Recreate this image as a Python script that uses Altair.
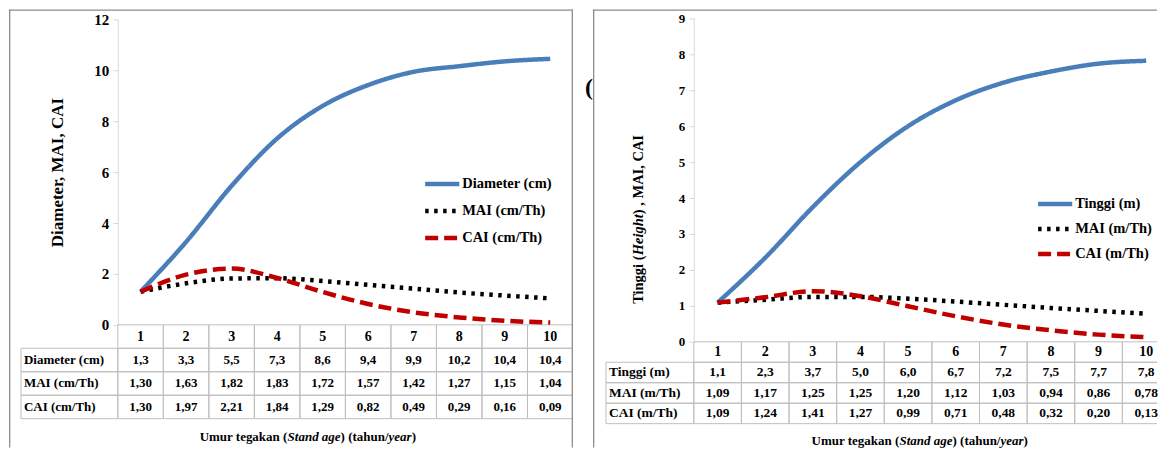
import altair as alt
import pandas as pd

# ---------------- data ----------------
AGES = [1, 2, 3, 4, 5, 6, 7, 8, 9, 10]
AGE_LABELS = ["1", "2", "3", "4", "5", "6", "7", "8", "9", "10"]

DIAM_SERIES = ["Diameter (cm)", "MAI (cm/Th)", "CAI (cm/Th)"]
DIAM = [1.30, 3.26, 5.46, 7.32, 8.60, 9.42, 9.94, 10.16, 10.35, 10.45]
DIAM_MAI = [1.30, 1.63, 1.82, 1.83, 1.72, 1.57, 1.42, 1.27, 1.15, 1.04]
DIAM_CAI = [1.30, 1.97, 2.21, 1.84, 1.29, 0.82, 0.49, 0.29, 0.16, 0.09]
DIAM_TXT = ["1,3", "3,3", "5,5", "7,3", "8,6", "9,4", "9,9", "10,2", "10,4", "10,4"]
DIAM_MAI_TXT = ["1,30", "1,63", "1,82", "1,83", "1,72", "1,57", "1,42", "1,27", "1,15", "1,04"]
DIAM_CAI_TXT = ["1,30", "1,97", "2,21", "1,84", "1,29", "0,82", "0,49", "0,29", "0,16", "0,09"]

HT_SERIES = ["Tinggi (m)", "MAI (m/Th)", "CAI (m/Th)"]
HT = [1.09, 2.34, 3.75, 5.00, 6.00, 6.72, 7.21, 7.52, 7.74, 7.82]
HT_MAI = [1.09, 1.17, 1.25, 1.25, 1.20, 1.12, 1.03, 0.94, 0.86, 0.78]
HT_CAI = [1.09, 1.24, 1.41, 1.27, 0.99, 0.71, 0.48, 0.32, 0.20, 0.13]
HT_TXT = ["1,1", "2,3", "3,7", "5,0", "6,0", "6,7", "7,2", "7,5", "7,7", "7,8"]
HT_MAI_TXT = ["1,09", "1,17", "1,25", "1,25", "1,20", "1,12", "1,03", "0,94", "0,86", "0,78"]
HT_CAI_TXT = ["1,09", "1,24", "1,41", "1,27", "0,99", "0,71", "0,48", "0,32", "0,20", "0,13"]

XTITLE_SEGS = [("Umur tegakan (", False), ("Stand age", True), (") (tahun/", False), ("year", True), (")", False)]
YTITLE_R_SEGS = [("Tinggi (", False), ("Height", True), (") , MAI, CAI", False)]

# ---------------- style ----------------
FONT = "Liberation Serif"
W, H = 565, 439
COLORS = ["#4a7ebb", "#000000", "#c00000"]
DASHES = [[1, 0], [3.5, 5.5], [13, 6]]
GRID = "#bfbfbf"
FRAME = "#8c8c8c"

BOLD = {" ": 250, "(": 333, ")": 333, ",": 250, "/": 278,
        "A": 722, "C": 722, "D": 722, "H": 778, "I": 389, "M": 944, "S": 556, "T": 667, "U": 722,
        "a": 500, "c": 444, "d": 556, "e": 444, "g": 500, "h": 556, "i": 278, "k": 556, "m": 833,
        "n": 556, "r": 444, "t": 333, "u": 556, "y": 500}
BOLDIT = {" ": 250, "(": 333, ")": 333, "S": 556, "H": 778, "a": 500, "d": 500, "e": 444, "g": 500,
          "h": 556, "i": 278, "n": 556, "r": 389, "t": 278, "y": 444}


def tw(s, size, italic=False):
    tbl = BOLDIT if italic else BOLD
    return sum(tbl.get(c, 500) for c in s) * size / 1000.0


ONE = pd.DataFrame({"k": [0]})


def seg_text(segs, x0, y0, size, vertical=False):
    layers = []
    pos = y0 if vertical else x0
    for s, it in segs:
        w = tw(s, size, it)
        if vertical:
            props = dict(x=x0, y=pos, angle=270)
            pos -= w
        else:
            props = dict(x=pos, y=y0)
            pos += w
        layers.append(
            alt.Chart(ONE).mark_text(align="left", baseline="middle", font=FONT, fontSize=size,
                                     fontWeight="bold", fontStyle="italic" if it else "normal",
                                     color="black", **props).encode(text=alt.value(s))
        )
    return layers


def panel(p):
    cw, ax = p["colw"], p["axis_px"]
    xdom = [0.5 - ax / cw, 0.5 + (W - ax) / cw]
    xsc = alt.Scale(domain=xdom, nice=False, zero=False)
    ysc = alt.Scale(domain=[0, p["ymax"]], range=[p["zero_px"], p["top_px"]], nice=False, zero=False)
    rsc = alt.Scale(domain=[0, 4], range=[p["zero_px"], p["bottom_px"]], nice=False, zero=False)
    lab_x = 0.5 + (p["label_px"] - ax) / cw
    names = p["series"]

    rows = []
    for name, vals in zip(names, p["values"]):
        for a, v in zip(AGES, vals):
            rows.append({"age": a, "value": v, "series": name})
    df = pd.DataFrame(rows)

    legend = alt.Legend(orient="none", legendX=p["legX"], legendY=p["legY"], title=None,
                        symbolType="M-3,0H3", symbolSize=130, symbolStrokeWidth=4.5, symbolOpacity=1,
                        labelFont=FONT, labelFontSize=14.5, labelFontWeight="bold", labelColor="black",
                        labelOffset=p["legOff"], rowPadding=p["legRow"], padding=0)

    yaxis = alt.Axis(orient="left", offset=-ax, values=p["ticks"], grid=False,
                     domainColor="#d9d9d9", tickColor="#d9d9d9", tickSize=5,
                     labelFont=FONT, labelFontSize=p["tick_fs"], labelFontWeight="bold",
                     labelColor="black", labelPadding=4,
                     title=p["ytitle"], titleFont=FONT, titleFontSize=17, titleFontWeight="bold",
                     titleColor="black", titlePadding=27)

    line = alt.Chart(df).mark_line(interpolate="monotone", strokeWidth=4.5).encode(
        x=alt.X("age:Q", scale=xsc, axis=None),
        y=alt.Y("value:Q", scale=ysc, axis=yaxis),
        color=alt.Color("series:N", scale=alt.Scale(domain=names, range=COLORS), legend=legend),
        strokeDash=alt.StrokeDash("series:N", scale=alt.Scale(domain=names, range=DASHES), legend=legend),
    )

    cells = []
    for a in AGES:
        cells.append({"x0": a - 0.5, "x1": a + 0.5, "r0": 0, "r1": 1})
    for i in range(3):
        cells.append({"x0": lab_x, "x1": 0.5, "r0": i + 1, "r1": i + 2})
        for a in AGES:
            cells.append({"x0": a - 0.5, "x1": a + 0.5, "r0": i + 1, "r1": i + 2})
    rect = alt.Chart(pd.DataFrame(cells)).mark_rect(filled=False, fill="transparent", stroke=GRID,
                                                    strokeWidth=1, clip=True).encode(
        x=alt.X("x0:Q", scale=xsc, axis=None), x2="x1:Q",
        y=alt.Y("r0:Q", scale=rsc, axis=None), y2="r1:Q")

    hdr = pd.DataFrame({"c": AGES, "r": [0.5] * 10, "t": AGE_LABELS})
    hdr_t = alt.Chart(hdr).mark_text(font=FONT, fontSize=14, fontWeight="bold", color="black").encode(
        x=alt.X("c:Q", scale=xsc, axis=None), y=alt.Y("r:Q", scale=rsc, axis=None), text="t:N")

    vals = []
    for i, txts in enumerate(p["texts"]):
        for a, t in zip(AGES, txts):
            vals.append({"c": a, "r": i + 1.5, "t": t})
    val_t = alt.Chart(pd.DataFrame(vals)).mark_text(font=FONT, fontSize=p["tbl_fs"], fontWeight="bold",
                                                    color="black").encode(
        x=alt.X("c:Q", scale=xsc, axis=None), y=alt.Y("r:Q", scale=rsc, axis=None), text="t:N")

    labs = pd.DataFrame({"c": [lab_x] * 3, "r": [1.5, 2.5, 3.5], "t": names})
    lab_t = alt.Chart(labs).mark_text(font=FONT, fontSize=p["tbl_fs"], fontWeight="bold", color="black",
                                      align="left", dx=3).encode(
        x=alt.X("c:Q", scale=xsc, axis=None), y=alt.Y("r:Q", scale=rsc, axis=None), text="t:N")

    frames = [
        alt.Chart(ONE).mark_rule(color=FRAME, strokeWidth=1.3).encode(
            x=alt.value(0.7), y=alt.value(0), y2=alt.value(H)),
        alt.Chart(ONE).mark_rule(color=FRAME, strokeWidth=1.3).encode(
            x=alt.value(0), x2=alt.value(W), y=alt.value(0.7)),
    ]
    if p["right_frame"]:
        frames.append(alt.Chart(ONE).mark_rule(color=FRAME, strokeWidth=1.3).encode(
            x=alt.value(W - 0.7), y=alt.value(0), y2=alt.value(H)))

    extra = seg_text(XTITLE_SEGS, p["xt_x"], p["xt_y"], 13)
    if p.get("yt_segs"):
        extra += seg_text(p["yt_segs"], p["yt_x"], p["yt_y"], 14.5, vertical=True)
    if p.get("paren"):
        extra.append(alt.Chart(ONE).mark_text(x=-4, y=79, font=FONT, fontSize=24, fontWeight="bold",
                                              color="black", align="center", baseline="middle")
                     .encode(text=alt.value("(")))

    return alt.layer(rect, hdr_t, val_t, lab_t, line, *frames, *extra).resolve_scale(
        y="independent").properties(width=W, height=H)


left = panel(dict(
    colw=45.6, axis_px=109, label_px=12, ymax=12, zero_px=316, top_px=10, bottom_px=410,
    ticks=[0, 2, 4, 6, 8, 10, 12], tick_fs=15, ytitle="Diameter, MAI, CAI",
    series=DIAM_SERIES, values=[DIAM, DIAM_MAI, DIAM_CAI],
    texts=[DIAM_TXT, DIAM_MAI_TXT, DIAM_CAI_TXT], tbl_fs=13,
    legX=426, legY=167, legRow=9, legOff=12, right_frame=True,
    xt_x=191, xt_y=428,
))

right = panel(dict(
    colw=47.7, axis_px=101, label_px=13, ymax=9, zero_px=333, top_px=9, bottom_px=415,
    ticks=[0, 1, 2, 3, 4, 5, 6, 7, 8, 9], tick_fs=13, ytitle=None,
    series=HT_SERIES, values=[HT, HT_MAI, HT_CAI],
    texts=[HT_TXT, HT_MAI_TXT, HT_CAI_TXT], tbl_fs=13.5,
    legX=455, legY=187, legRow=7, legOff=12, right_frame=False,
    xt_x=219, xt_y=432,
    yt_segs=YTITLE_R_SEGS, yt_x=46, yt_y=295, paren=True,
))

chart = alt.hconcat(left, right, spacing=20, bounds="flush").resolve_scale(
    color="independent", strokeDash="independent").resolve_legend(
    color="independent", strokeDash="independent").properties(
    padding=0, background="white").configure_view(strokeWidth=0)

chart.save("out.html", embed_options={"renderer": "svg", "actions": False})
